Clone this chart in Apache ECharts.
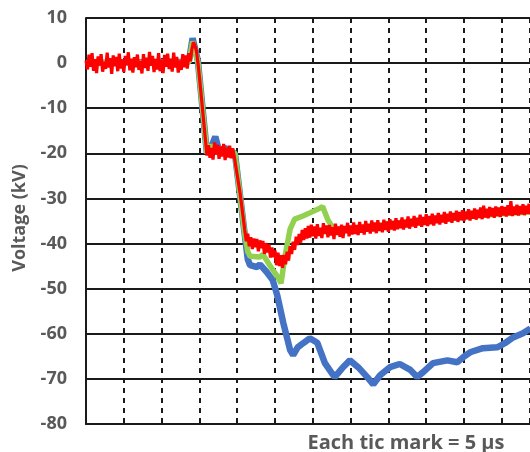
<!DOCTYPE html>
<html>
<head>
<meta charset="utf-8">
<script src="https://cdn.jsdelivr.net/npm/echarts@6/dist/echarts.min.js"></script>
<style>html,body{margin:0;padding:0;background:#fff}#c{width:530px;height:452px}</style>
</head>
<body>
<div id="c"></div>
<script>
// time in microseconds (each tic = 5 us), voltage in kV
var yTicks = [10, 0, -10, -20, -30, -40, -50, -60, -70, -80];
var xTicStep = 5;

var blueTrace = [
  [0,0],[13.6,0.3],[14.1,5.5],[14.8,0.5],[16.0,-20],[16.6,-18.5],[17.1,-16.3],[17.6,-19.5],[18.4,-18.8],[19.2,-19.6],[19.7,-20],
  [21.0,-38],[21.4,-43.5],[21.7,-44.8],[22.6,-45.2],[23.0,-44.6],[23.9,-46.3],[24.7,-48.1],[25.3,-51.5],[26.1,-57.6],[27.0,-63.6],
  [27.4,-64.7],[28.0,-63.0],[28.7,-62.1],[29.6,-61.0],[30.6,-62.0],[31.6,-66.5],[32.5,-68.7],[32.9,-69.6],[33.9,-67.6],[34.9,-65.9],
  [36.0,-67.4],[37.2,-69.6],[38.0,-71.2],[38.9,-69.2],[40.2,-67.4],[41.5,-66.7],[42.9,-68.0],[43.8,-69.6],[44.6,-68.5],[45.9,-66.5],
  [47.8,-65.9],[49.1,-66.3],[49.9,-65.2],[50.8,-64.1],[52.5,-63.2],[54.4,-63.0],[55.4,-62.1],[56.5,-60.8],[57.8,-59.9],[58.8,-58.8]
];

var greenTrace = [
  [0,0],[13.6,0.2],[14.1,4.8],[14.8,0.3],[16.0,-20],[16.6,-18.2],[17.2,-19.8],[18.0,-19],[19.0,-19.5],[19.7,-20],
  [21.0,-38],[21.4,-41.8],[21.7,-42.8],[23.0,-43.0],[23.4,-42.4],[24.3,-44.8],[25.4,-47.5],[25.8,-48.8],[26.3,-43.0],[27.0,-36.8],
  [27.6,-34.6],[28.7,-33.9],[29.6,-33.2],[31.0,-32.1],[31.3,-31.8],[32.0,-34.8],[32.7,-36.6],[34.0,-37.0],[36.0,-36.6],[40.0,-35.6],
  [44.0,-35.0],[48.0,-34.5],[52.0,-33.8],[56.0,-33.3],[58.8,-33.0]
];

var redTrace = [
  [0.0,0.6],[0.2,-1.4],[0.4,1.9],[0.6,-0.8],[0.8,2.2],[1.0,-1.7],[1.2,0.9],[1.4,-2.2],[1.6,1.5],[1.8,-0.5],
  [2.0,2.0],[2.2,-1.9],[2.4,0.3],[2.6,-1.3],[2.8,2.3],[3.0,-1.0],[3.2,1.1],[3.4,-2.4],[3.6,1.7],[3.8,-0.7],
  [4.0,1.4],[4.2,-1.8],[4.4,2.1],[4.6,-1.2],[4.8,0.8],[5.0,-2.0],[5.2,1.6],[5.4,-0.4],[5.6,2.4],[5.8,-1.6],
  [6.0,1.0],[6.2,-2.1],[6.4,1.3],[6.6,-0.9],[6.8,1.9],[7.0,-1.5],[7.2,0.5],[7.4,-2.3],[7.6,2.0],[7.8,-1.1],
  [8.0,1.2],[8.2,-1.7],[8.4,2.5],[8.6,-0.6],[8.8,1.6],[9.0,-2.0],[9.2,0.9],[9.4,-1.4],[9.6,2.2],[9.8,-1.8],
  [10.0,0.7],[10.2,-2.2],[10.4,1.8],[10.6,-0.8],[10.8,2.1],[11.0,-1.3],[11.2,1.0],[11.4,-1.9],[11.6,2.3],[11.8,-1.0],
  [12.0,1.4],[12.2,-2.1],[12.4,0.6],[12.6,-1.5],[12.8,2.0],[13.0,-0.9],[13.2,1.7],[13.4,-1.2],[13.6,2.2],[13.8,0.4],
  [14.0,3.0],[14.2,4.6],[14.4,4.0],[14.6,2.8],[14.8,0.2],[15.0,-3.0],[15.4,-10.0],[15.8,-17.0],[16.0,-20.5],
  [16.2,-18.2],[16.4,-21.0],[16.6,-18.8],[16.8,-21.4],[17.0,-17.6],[17.2,-20.2],[17.4,-18.1],[17.6,-21.2],[17.8,-18.5],[18.0,-20.7],
  [18.2,-17.9],[18.4,-21.5],[18.6,-18.7],[18.8,-20.9],[19.0,-18.3],[19.2,-21.1],[19.4,-18.9],[19.6,-20.6],[19.8,-21.0],[20.4,-29.0],
  [21.0,-37.0],[21.2,-39.5],[21.4,-37.8],[21.6,-40.6],[21.8,-38.6],[22.0,-41.2],[22.2,-38.9],[22.4,-40.8],[22.6,-39.0],[22.8,-41.7],
  [23.0,-39.3],[23.2,-41.0],[23.4,-39.4],[23.6,-42.3],[23.8,-39.9],[24.0,-42.0],[24.2,-40.2],[24.4,-43.1],[24.6,-40.9],[24.8,-43.0],
  [25.0,-41.5],[25.2,-44.8],[25.4,-42.0],[25.6,-45.0],[25.8,-42.6],[26.0,-45.4],[26.2,-42.5],[26.4,-44.6],[26.6,-41.8],[26.8,-43.8],
  [27.0,-40.6],[27.2,-42.3],[27.4,-39.6],[27.6,-41.4],[27.8,-38.5],[28.0,-40.3],[28.2,-37.9],[28.4,-39.8],[28.6,-37.0],[28.8,-39.2],
  [29.0,-36.6],[29.2,-38.9],[29.4,-36.1],[29.6,-38.7],[29.8,-35.8],[30.0,-38.4],[30.2,-36.2],[30.4,-38.9],[30.6,-35.7],[30.8,-38.3],
  [31.0,-36.5],[31.2,-38.8],[31.4,-35.5],[31.6,-37.9],[31.8,-36.0],[32.0,-38.6],[32.2,-35.9],[32.4,-38.2],[32.6,-36.4],[32.8,-39.0],
  [33.0,-35.6],[33.2,-38.1],[33.4,-36.2],[33.6,-38.5],[33.8,-35.8],[34.0,-38.8],[34.2,-36.1],[34.4,-37.7],[34.6,-35.4],[34.8,-38.4],
  [35.0,-36.0],[35.2,-38.0],[35.4,-35.3],[35.6,-37.9],[35.8,-35.9],[36.0,-38.1],[36.2,-35.2],[36.4,-37.6],[36.6,-35.8],[36.8,-38.0],
  [37.0,-35.0],[37.2,-37.4],[37.4,-35.6],[37.6,-37.8],[37.8,-34.9],[38.0,-37.3],[38.2,-35.3],[38.4,-37.7],[38.6,-34.8],[38.8,-37.2],
  [39.0,-35.5],[39.2,-37.5],[39.4,-34.7],[39.6,-37.0],[39.8,-35.1],[40.0,-37.4],[40.2,-34.6],[40.4,-36.9],[40.6,-35.0],[40.8,-37.1],
  [41.0,-34.4],[41.2,-36.8],[41.4,-34.9],[41.6,-36.6],[41.8,-34.2],[42.0,-36.9],[42.2,-34.7],[42.4,-36.4],[42.6,-34.0],[42.8,-36.7],
  [43.0,-34.5],[43.2,-36.2],[43.4,-33.9],[43.6,-36.5],[43.8,-34.3],[44.0,-36.0],[44.2,-33.6],[44.4,-36.3],[44.6,-34.1],[44.8,-35.9],
  [45.0,-33.5],[45.2,-36.1],[45.4,-33.9],[45.6,-35.7],[45.8,-33.4],[46.0,-36.0],[46.2,-33.8],[46.4,-35.5],[46.6,-33.2],[46.8,-35.8],
  [47.0,-33.6],[47.2,-35.3],[47.4,-33.0],[47.6,-35.6],[47.8,-33.4],[48.0,-35.1],[48.2,-32.9],[48.4,-35.4],[48.6,-33.2],[48.8,-34.9],
  [49.0,-32.7],[49.2,-35.2],[49.4,-33.0],[49.6,-34.8],[49.8,-32.6],[50.0,-35.0],[50.2,-32.9],[50.4,-34.6],[50.6,-32.4],[50.8,-34.9],
  [51.0,-32.7],[51.2,-34.5],[51.4,-32.2],[51.6,-34.7],[51.8,-32.5],[52.0,-34.3],[52.2,-32.0],[52.4,-34.6],[52.6,-31.6],[52.8,-34.2],
  [53.0,-32.3],[53.2,-34.4],[53.4,-31.9],[53.6,-34.0],[53.8,-32.1],[54.0,-34.3],[54.2,-31.8],[54.4,-33.9],[54.6,-32.0],[54.8,-34.1],
  [55.0,-31.7],[55.2,-33.8],[55.4,-31.9],[55.6,-34.0],[55.8,-31.5],[56.0,-33.7],[56.2,-30.6],[56.4,-33.9],[56.6,-31.8],[56.8,-33.6],
  [57.0,-31.4],[57.2,-33.8],[57.4,-31.7],[57.6,-33.5],[57.8,-31.3],[58.0,-33.7],[58.2,-31.6],[58.4,-33.4],[58.6,-31.2],[58.8,-33.5]
];

var chart = echarts.init(document.getElementById('c'), null, {renderer: 'canvas'});
var labelColor = '#595959';
var fontFam = '"Open Sans", "DejaVu Sans", sans-serif';
chart.setOption({
  animation: false,
  backgroundColor: '#ffffff',
  grid: {left: 86, right: 0, top: 18, bottom: 28, containLabel: false},
  xAxis: {
    type: 'value', min: 0, max: 58.73, interval: xTicStep,
    axisLine: {show: true, onZero: false, lineStyle: {color: '#1a1a1a', width: 2}},
    axisTick: {show: true, inside: true, length: 3, lineStyle: {color: '#1a1a1a', width: 1.5}},
    axisLabel: {show: false},
    splitLine: {show: true, lineStyle: {color: '#1a1a1a', width: 2, type: [5, 5]}}
  },
  yAxis: {
    type: 'value', min: -80, max: 10, interval: 10,
    axisLine: {show: true, onZero: false, lineStyle: {color: '#1a1a1a', width: 2}},
    axisTick: {show: false},
    axisLabel: {show: true, margin: 19, color: labelColor, fontSize: 18, fontWeight: 'bold', fontFamily: fontFam,
      formatter: function (v) { return yTicks.indexOf(v) >= 0 ? String(v) : ''; }},
    splitLine: {show: true, lineStyle: {color: '#1a1a1a', width: 2, type: 'solid'}}
  },
  series: [
    {type: 'line', data: blueTrace, showSymbol: false, smooth: false, z: 3,
      lineStyle: {color: '#4472C4', width: 6.5}},
    {type: 'line', data: greenTrace, showSymbol: false, smooth: false, z: 4,
      lineStyle: {color: '#92D050', width: 5.5}},
    {type: 'line', data: redTrace, showSymbol: false, smooth: false, z: 5,
      lineStyle: {color: '#FF0000', width: 3.2}}
  ],
  graphic: [
    {type: 'text', x: 20, y: 218, rotation: Math.PI / 2,
      style: {text: 'Voltage (kV)', fill: labelColor, font: 'bold 18px ' + fontFam, align: 'center', verticalAlign: 'middle'}},
    {type: 'text', x: 406, y: 443,
      style: {text: 'Each tic mark = 5 µs', fill: labelColor, font: 'bold 20px ' + fontFam, align: 'center', verticalAlign: 'middle'}}
  ]
});
</script>
</body>
</html>
